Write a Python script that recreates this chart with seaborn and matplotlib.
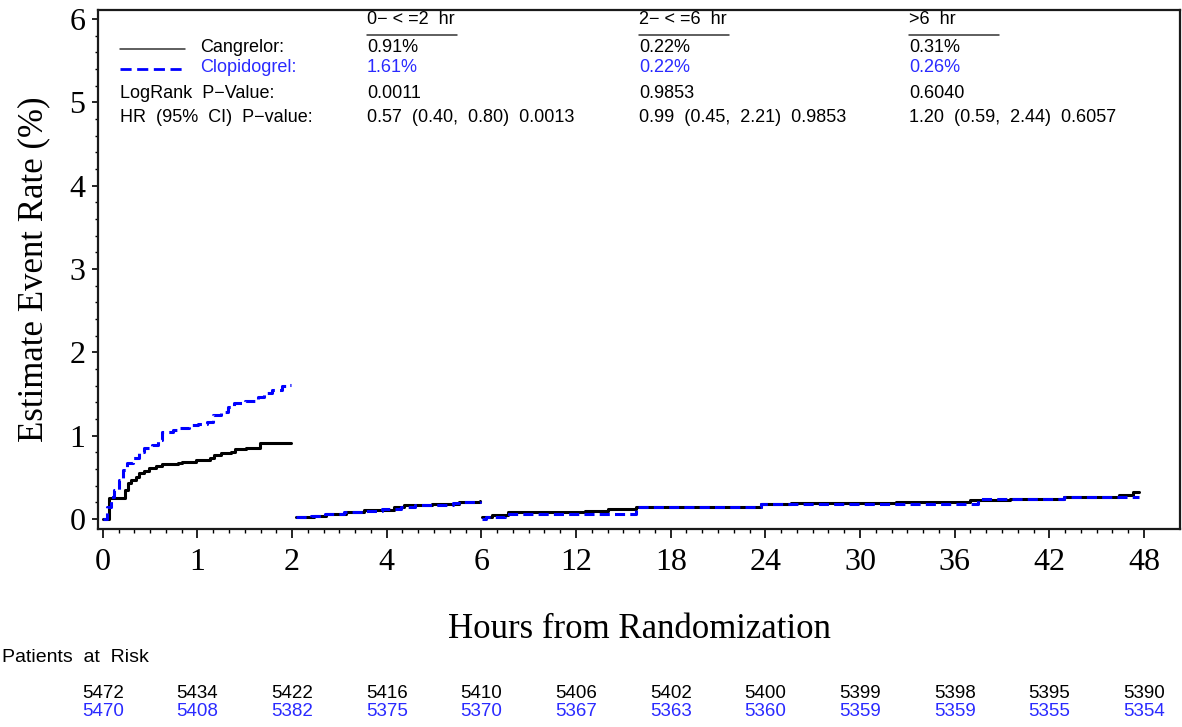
import numpy as np
import pandas as pd
import matplotlib
matplotlib.use("Agg")
import matplotlib.pyplot as plt
import seaborn as sns
from matplotlib.lines import Line2D

# ---------------- data ----------------
groups = ["Cangrelor", "Clopidogrel"]

# segment 1 : 0 - 2 hr (step times in hours, level after the step, %)
cang_t1 = [0.0, 0.067, 0.20, 0.23, 0.27, 0.30, 0.35, 0.38, 0.44, 0.49, 0.56, 0.63, 0.80, 0.84,
           0.98, 1.13, 1.18, 1.25, 1.36, 1.40, 1.51, 1.66, 1.99]
cang_y1 = [0.0, 0.25, 0.25, 0.35, 0.43, 0.47, 0.51, 0.55, 0.58, 0.61, 0.64, 0.66, 0.67, 0.69,
           0.71, 0.73, 0.77, 0.79, 0.81, 0.84, 0.85, 0.91, 0.91]
clop_t1 = [0.0, 0.05, 0.09, 0.12, 0.17, 0.21, 0.26, 0.32, 0.38, 0.44, 0.52, 0.58, 0.63, 0.74,
           0.80, 0.91, 1.01, 1.10, 1.17, 1.25, 1.32, 1.39, 1.50, 1.64, 1.70, 1.79, 1.89, 1.94, 1.99]
clop_y1 = [0.0, 0.15, 0.27, 0.35, 0.47, 0.59, 0.67, 0.73, 0.81, 0.85, 0.89, 0.95, 1.04, 1.07,
           1.09, 1.13, 1.14, 1.17, 1.25, 1.29, 1.35, 1.39, 1.42, 1.47, 1.51, 1.55, 1.60, 1.61, 1.61]

# segment 2 : 2 - 6 hr
cang_t2 = [2.09, 2.46, 2.71, 3.13, 3.52, 4.15, 4.36, 4.95, 5.52, 5.97]
cang_y2 = [0.02, 0.04, 0.06, 0.08, 0.11, 0.14, 0.17, 0.18, 0.20, 0.22]
clop_t2 = [2.09, 2.40, 2.70, 3.10, 3.50, 3.90, 4.30, 4.60, 5.40, 5.60, 5.97]
clop_y2 = [0.02, 0.04, 0.06, 0.08, 0.10, 0.12, 0.15, 0.17, 0.19, 0.21, 0.22]

# segment 3 : 6 - 48 hr
cang_t3 = [6.02, 6.65, 7.7, 12.55, 14.0, 15.8, 23.7, 25.6, 32.3, 37.0, 39.5, 42.9, 46.4, 47.3, 47.7]
cang_y3 = [0.02, 0.05, 0.08, 0.10, 0.12, 0.14, 0.18, 0.19, 0.21, 0.23, 0.24, 0.26, 0.29, 0.32, 0.32]
clop_t3 = [6.02, 6.3, 7.5, 15.8, 23.7, 37.5, 42.9, 47.0, 47.7]
clop_y3 = [0.0, 0.03, 0.06, 0.14, 0.18, 0.24, 0.26, 0.26, 0.26]

tick_hours = [0, 1, 2, 4, 6, 12, 18, 24, 30, 36, 42, 48]
risk_cang = [5472, 5434, 5422, 5416, 5410, 5406, 5402, 5400, 5399, 5398, 5395, 5390]
risk_clop = [5470, 5408, 5382, 5375, 5370, 5367, 5363, 5360, 5359, 5359, 5355, 5354]

periods = ["0\u2212 < =2  hr", "2\u2212 < =6  hr", ">6  hr"]
rate_cang = ["0.91%", "0.22%", "0.31%"]
rate_clop = ["1.61%", "0.22%", "0.26%"]
logrank_p = ["0.0011", "0.9853", "0.6040"]
hr_ci = ["0.57  (0.40,  0.80)  0.0013", "0.99  (0.45,  2.21)  0.9853", "1.20  (0.59,  2.44)  0.6057"]

# ---------------- frame ----------------
rows = []
segs = [(cang_t1, cang_y1, clop_t1, clop_y1),
        (cang_t2, cang_y2, clop_t2, clop_y2),
        (cang_t3, cang_y3, clop_t3, clop_y3)]
for k, (ct, cy, bt, by) in enumerate(segs):
    for t, y in zip(ct, cy):
        rows.append(dict(hours=t, rate=y, group="Cangrelor", seg=k))
    for t, y in zip(bt, by):
        rows.append(dict(hours=t, rate=y, group="Clopidogrel", seg=k))
df = pd.DataFrame(rows)

# ---------------- figure ----------------
sns.set_style("ticks")
plt.rcParams["font.family"] = ["Liberation Serif", "DejaVu Serif"]
plt.rcParams["text.color"] = "black"
plt.rcParams["axes.labelcolor"] = "black"
W, H = 1182, 727
fig = plt.figure(figsize=(W / 100, H / 100), dpi=100)
ax = fig.add_axes([98 / W, 1 - 529 / H, (1180 - 98) / W, (529 - 10) / H])

BLUE = "#0000ff"
TBLUE = "#2a2aff"
sns.lineplot(data=df, x="hours", y="rate", hue="group", style="group", units="seg",
             estimator=None, sort=False, palette={"Cangrelor": "black", "Clopidogrel": BLUE},
             dashes={"Cangrelor": "", "Clopidogrel": (3.3, 1.7)}, lw=2.2,
             drawstyle="steps-post", legend=False, ax=ax)


def fwd(h):
    h = np.asarray(h, float)
    return np.where(h <= 2, h, np.where(h <= 6, 2 + (h - 2) / 2, 4 + (h - 6) / 6))


def inv(i):
    i = np.asarray(i, float)
    return np.where(i <= 2, i, np.where(i <= 4, 2 + (i - 2) * 2, 6 + (i - 4) * 6))


ax.set_xscale("function", functions=(fwd, inv))
ax.set_xlim(-0.05, 50.28)
ax.set_ylim(-0.12, 6.108)

ax.set_xticks(tick_hours)
ax.set_xticklabels([str(h) for h in tick_hours])
minor = np.concatenate([np.arange(0, 2, 1 / 6), np.arange(2, 6, 1 / 3), np.arange(6, 48.5, 1)])
ax.set_xticks(minor, minor=True)
ax.set_yticks(range(0, 7))
ax.set_yticks(np.arange(0, 6.01, 0.2), minor=True)

ax.tick_params(axis="x", which="both", bottom=True, top=False)
ax.tick_params(axis="y", which="both", left=True, right=False)
ax.tick_params(axis="x", which="major", direction="out", length=6.5, width=1.2, pad=7,
               labelsize=23, colors="black")
ax.tick_params(axis="x", which="minor", direction="out", length=3, width=1.0, colors="black")
ax.tick_params(axis="y", which="major", direction="out", length=4, width=1.2, pad=5,
               labelsize=23, colors="black")
ax.tick_params(axis="y", which="minor", direction="out", length=2.5, width=1.0, colors="black")
for sp in ax.spines.values():
    sp.set_visible(True)
    sp.set_linewidth(1.6)
    sp.set_color("#1a1a1a")

ax.set_xlabel("Hours from Randomization", fontsize=25, labelpad=26, color="black")
ax.set_ylabel("Estimate Event Rate (%)", fontsize=25, labelpad=14, color="black")

# ---------------- inner table ----------------
SANS = ["Liberation Sans", "DejaVu Sans"]
FS = 13


def ftxt(x, y, s, color="black", **kw):
    fig.text(x / W, 1 - y / H, s, fontsize=FS, family=SANS, color=color, va="center", ha="left", **kw)


def fline(x0, x1, y, **kw):
    fig.add_artist(Line2D([x0 / W, x1 / W], [1 - y / H, 1 - y / H], transform=fig.transFigure, **kw))


fline(120, 185, 49, color="#333333", lw=1.1)
fline(120, 185, 69, color=BLUE, lw=2.0, dashes=(4, 2))
ftxt(200, 48, "Cangrelor:")
ftxt(200, 68, "Clopidogrel:", color=TBLUE)
ftxt(120, 94, "LogRank  P\u2212Value:")
ftxt(120, 118, "HR  (95%  CI)  P\u2212value:")

col_x = [367, 639, 909]
for x, p, rc, rb, lp, hc in zip(col_x, periods, rate_cang, rate_clop, logrank_p, hr_ci):
    ftxt(x, 20, p)
    fline(x, x + 90, 35, color="#333333", lw=1.1)
    ftxt(x, 48, rc)
    ftxt(x, 68, rb, color=TBLUE)
    ftxt(x, 94, lp)
    ftxt(x, 118, hc)

# ---------------- patients at risk ----------------
fig.text(2 / W, 1 - 658 / H, "Patients  at  Risk", fontsize=14, family=SANS, va="center", ha="left",
         color="black")
trans = ax.get_xaxis_transform()
for h, nc, nb in zip(tick_hours, risk_cang, risk_clop):
    ax.text(h, (529 - 693) / 519, str(nc), transform=trans, fontsize=13.5, family=SANS,
            ha="center", va="center", color="black", clip_on=False)
    ax.text(h, (529 - 712) / 519, str(nb), transform=trans, fontsize=13.5, family=SANS,
            ha="center", va="center", color=TBLUE, clip_on=False)

fig.savefig("out.png", dpi=100)
